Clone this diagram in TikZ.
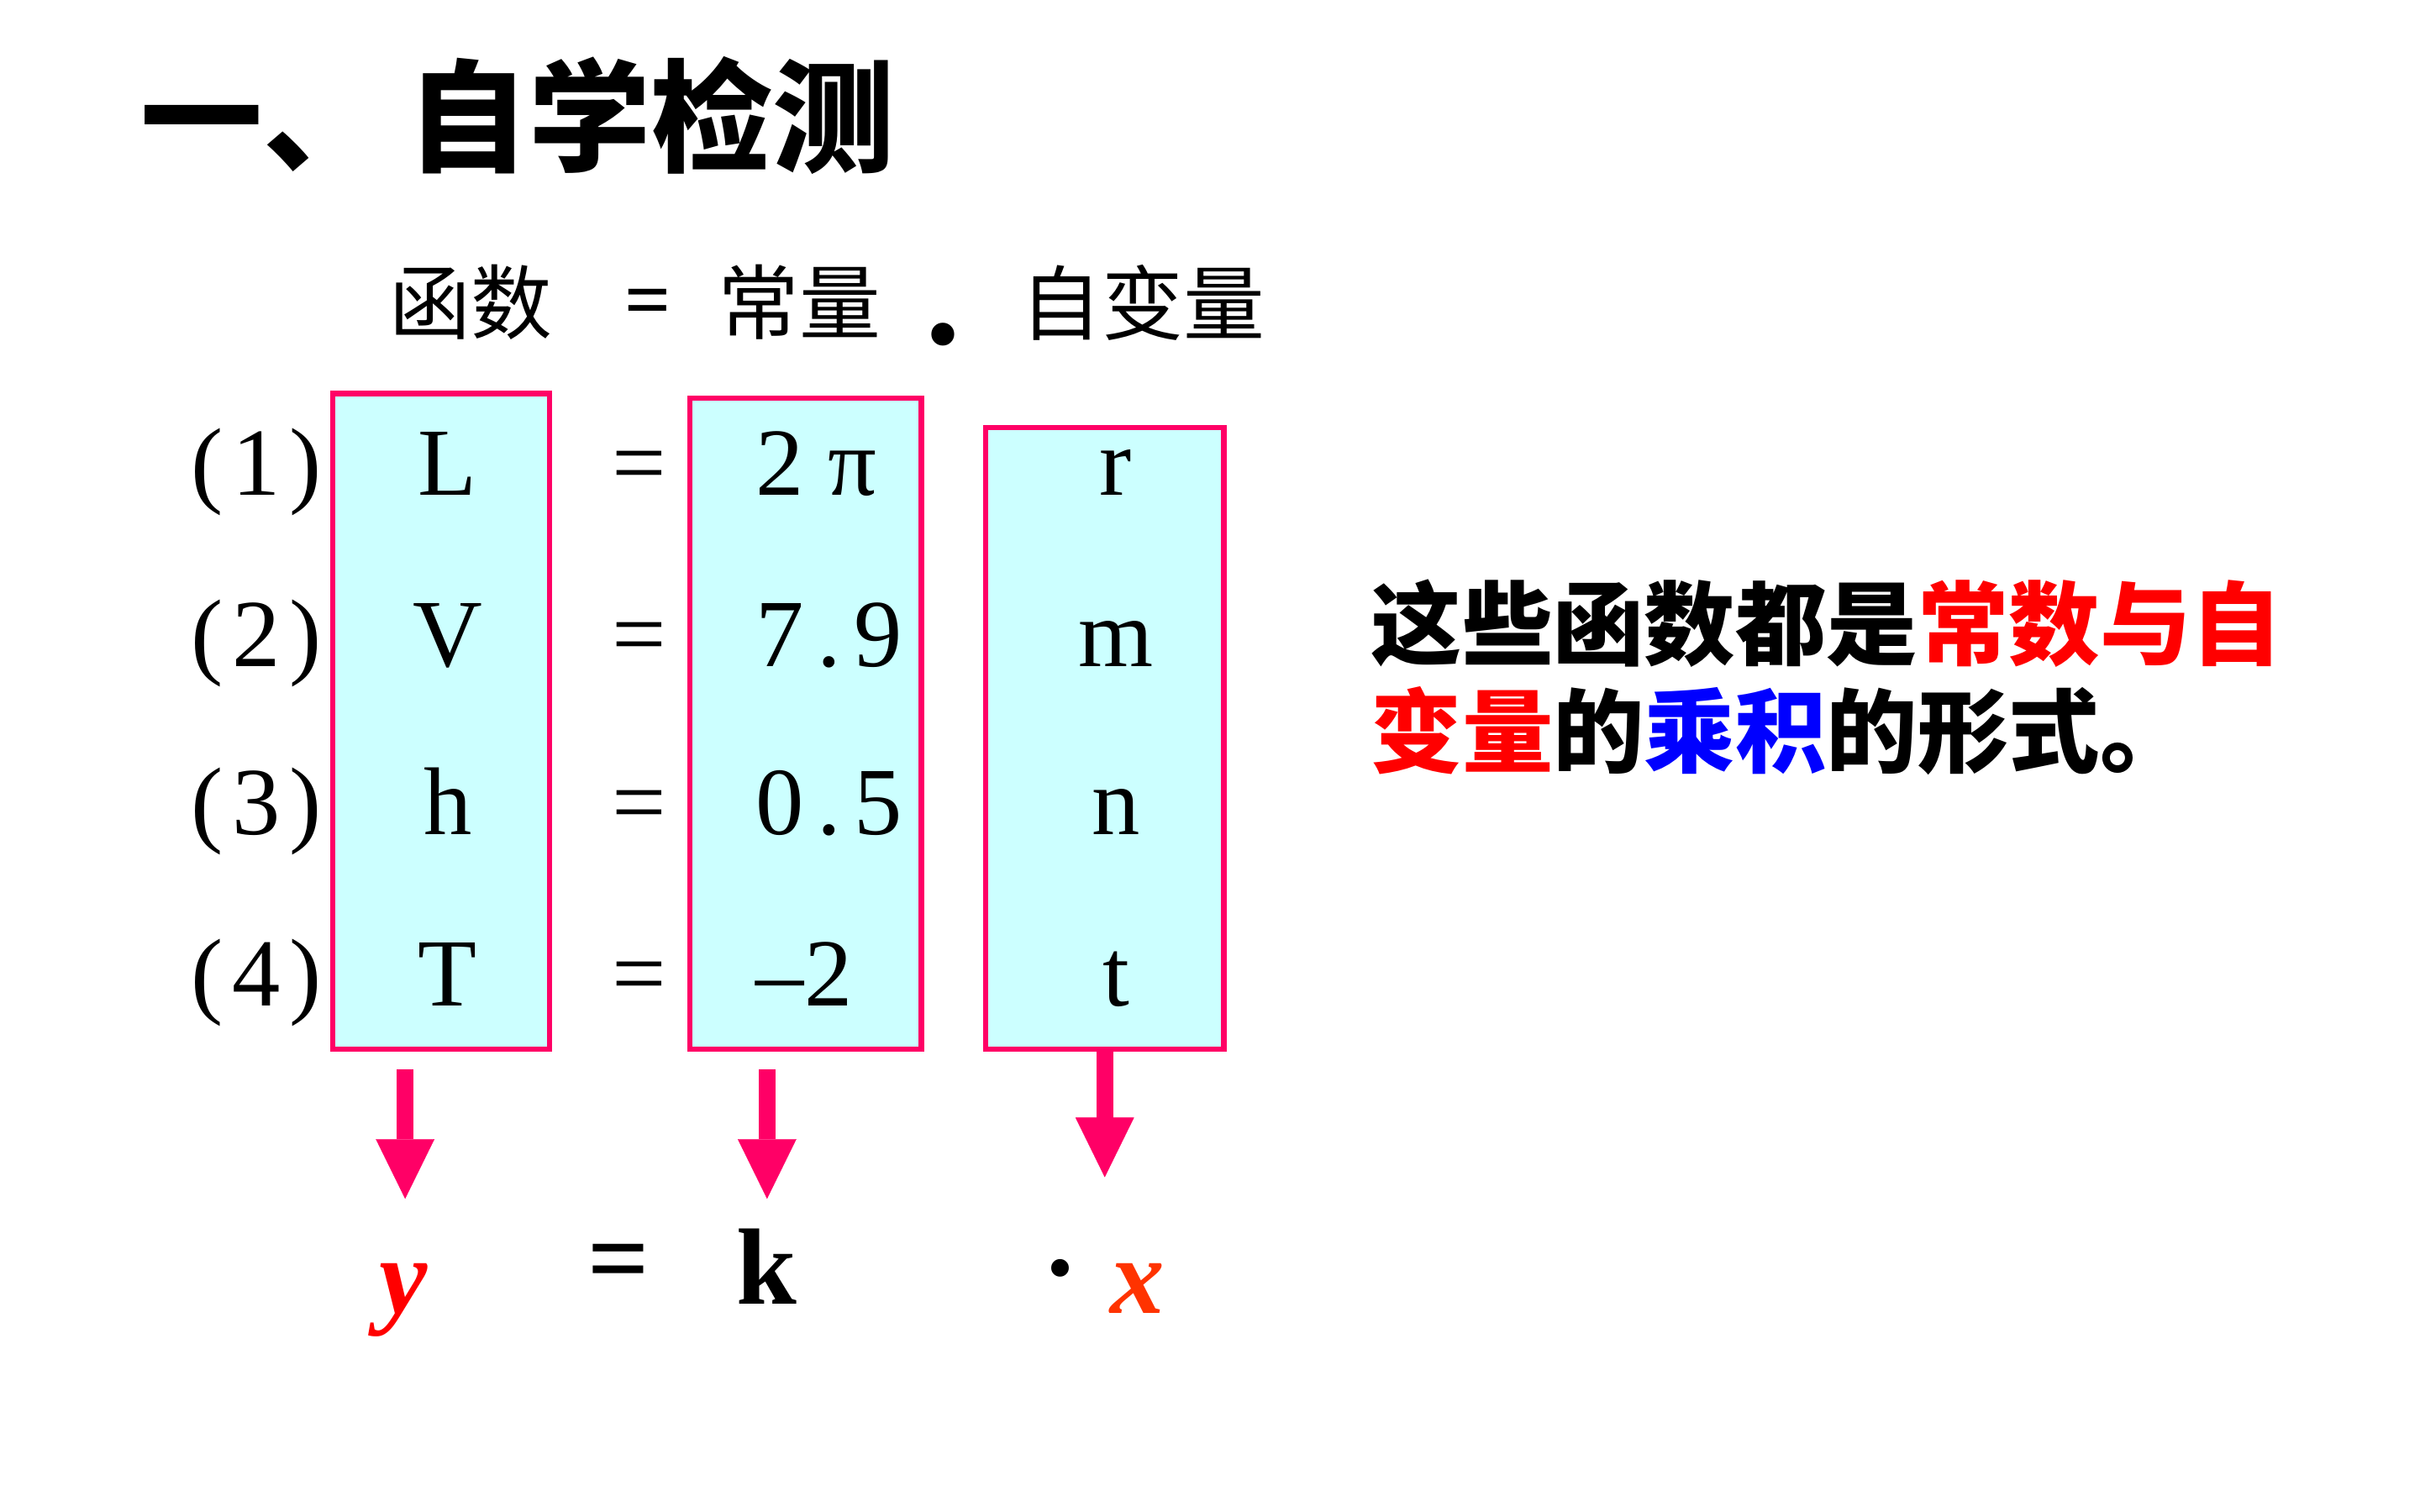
\documentclass[tikz,border=0pt]{standalone}
\usepackage{fontspec}
\setmainfont{Liberation Serif}
\newfontfamily\cjk{Noto Sans CJK SC}
\usetikzlibrary{arrows.meta}
\definecolor{boxline}{HTML}{FF0066}
\definecolor{boxfill}{HTML}{CCFFFF}
\definecolor{xred}{HTML}{FF3300}
\definecolor{pred}{HTML}{FF0000}
\definecolor{pblue}{HTML}{0000FF}
\newcommand{\hwc}[1]{\makebox[0.51em][c]{#1}}
\begin{document}
\begin{tikzpicture}[x=0.02cm,y=-0.02cm,
  colbox/.style={draw=boxline,fill=boxfill,line width=2pt,inner sep=0pt},
  rowtxt/.style={inner sep=0pt,anchor=base,font=\fontsize{35.5}{40}\selectfont},
  rowleft/.style={rowtxt,anchor=base west},
  headtxt/.style={inner sep=0pt,anchor=west,font=\cjk\fontsize{30}{34}\selectfont},
  bottxt/.style={inner sep=0pt,anchor=base,font=\fontsize{40}{44}\selectfont\bfseries},
  bigarrow/.style={draw=boxline,line width=6.2pt,
    -{Triangle[width=21.6pt,length=22pt,line width=0.1pt]}}]
\useasboundingbox (0,0) rectangle (1568,980);
\fill[white] (0,0) rectangle (1568,980);

% title
\node[inner sep=0pt,anchor=west,font=\cjk\bfseries\fontsize{45}{50}\selectfont] (title) at (91,75) {一、\hspace{0.18em}自学检测};

% header
\node[headtxt] (hfun) at (252,196) {函数};
\node[inner sep=0pt,anchor=center,font=\bfseries\fontsize{30}{34}\selectfont] (heq) at (420,200) {=};
\node[headtxt] (hconst) at (465,196) {常量};
\node[inner sep=0pt,anchor=base,font=\bfseries\fontsize{52}{54}\selectfont] (hdot) at (611,223) {.};
\node[headtxt] (hvar) at (661,196) {自变量};

% boxes
\node[colbox,minimum width=2.808cm,minimum height=8.5cm] (box1) at (285.8,467.5) {};
\node[colbox,minimum width=3.0cm,minimum height=8.44cm] (box2) at (522,469) {};
\node[colbox,minimum width=3.088cm,minimum height=8.06cm] (box3) at (715.8,478.5) {};

% rows
\foreach \n/\yy/\a/\c in {1/321/L/r, 2/432/V/m, 3/541/h/n, 4/652/T/t}{
  \node[rowleft] (lab\n) at (118,\yy) {\hwc{(}\hwc{\n}\hwc{)}};
  \node[rowtxt] (fn\n) at (290,\yy) {\a};
  \node[rowtxt] (eq\n) at (414,\yy) {=};
  \node[rowtxt] (var\n) at (723,\yy) {\c};
}
\node[rowleft] (k1) at (489,321) {\hwc{2}\makebox[1em][c]{π}};
\node[rowleft] (k2) at (489,432) {\hwc{7}\hwc{.}\hwc{9}};
\node[rowleft] (k3) at (489,541) {\hwc{0}\hwc{.}\hwc{5}};
\node[rowleft] (k4) at (489,652) {\hwc{–}\hwc{2}};

% right text
\node[inner sep=0pt,anchor=west,align=left,font=\cjk\bfseries\fontsize{33.6}{39.5}\selectfont] (note) at (888,439)
  {这些函数都是\textcolor{pred}{常数与自}\\\textcolor{pred}{变量}的\textcolor{pblue}{乘积}的形式。};

% bottom formula
\node[bottxt,text=pred] (ynode) at (261.5,851) {\itshape y};
\node[bottxt] (beq) at (401,839) {=};
\node[bottxt] (knode) at (496.5,845) {k};
\node[bottxt] (bdot) at (687,845) {·};
\node[bottxt,text=xred] (xnode) at (737,851) {\itshape x};

% arrows
\coordinate (a1s) at (262.5,693);
\coordinate (a1e) at (262.5,777);
\coordinate (a2s) at (497,693);
\coordinate (a2e) at (497,777);
\coordinate (a3e) at (715.8,763);
\draw[bigarrow] (a1s) -- (a1e);
\draw[bigarrow] (a2s) -- (a2e);
\draw[bigarrow] (box3.south) -- (a3e);
\end{tikzpicture}
\end{document}
